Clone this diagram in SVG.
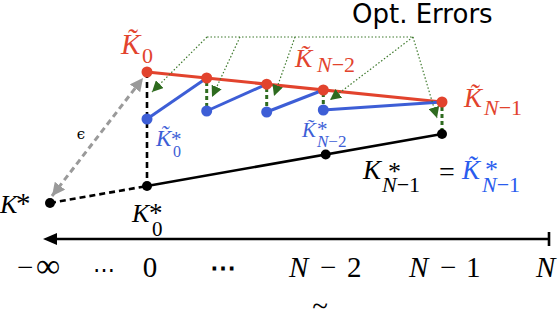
<svg xmlns="http://www.w3.org/2000/svg" width="560" height="312" viewBox="0 0 560 312">
<defs>
<style>
.m{font-family:"Liberation Serif","Times New Roman",serif;}
.i{font-style:italic;}
.red{fill:#E2432D;}
.blue{fill:#3D5ED6;}
.bblue{fill:#2A5CEE;}
.blk{fill:#000;}
.rl{stroke:#E2432D;stroke-width:3;fill:none;}
.bl{stroke:#3D5ED6;stroke-width:3;fill:none;}
.kl{stroke:#000;stroke-width:2.6;fill:none;}
.kd{stroke:#000;stroke-width:2.6;stroke-dasharray:6 4;fill:none;}
.gd{stroke:#2E6B1F;stroke-width:3;stroke-dasharray:4 3;fill:none;}
.gt{stroke:#3F7A2E;stroke-width:1.2;stroke-dasharray:1.5 2;fill:none;}
.gy{stroke:#9A9A9A;stroke-width:3;stroke-dasharray:6 4;fill:none;}
</style>
<marker id="ga" viewBox="0 0 10 10" refX="10" refY="5" markerUnits="userSpaceOnUse" markerWidth="11" markerHeight="11" orient="auto">
<path d="M0,0 L10,5 L0,10 z" fill="#2E6B1F"/>
</marker>
<marker id="gyE" viewBox="0 0 10 10" refX="10" refY="5" markerUnits="userSpaceOnUse" markerWidth="13" markerHeight="13" orient="auto">
<path d="M0,0 L10,5 L0,10 z" fill="#9A9A9A"/>
</marker>
<marker id="gyS" viewBox="0 0 10 10" refX="0" refY="5" markerUnits="userSpaceOnUse" markerWidth="13" markerHeight="13" orient="auto">
<path d="M10,0 L0,5 L10,10 z" fill="#9A9A9A"/>
</marker>
</defs>
<rect width="560" height="312" fill="#fff"/>

<g id="connectors">
<line x1="52" y1="239" x2="549" y2="239" stroke="#000" stroke-width="2.6"/>
<path d="M43,239 L57,233 L57,245 z" fill="#000"/>
<line x1="549" y1="232" x2="549" y2="246" stroke="#000" stroke-width="2.6"/>
<line class="rl" x1="147" y1="72" x2="442" y2="102"/>
<line class="bl" x1="147" y1="119" x2="206.7" y2="78"/>
<line class="bl" x1="206.7" y1="111" x2="266.7" y2="84.2"/>
<line class="bl" x1="266.7" y1="112" x2="323.3" y2="90"/>
<line class="bl" x1="323.3" y1="110" x2="442" y2="102"/>
<line class="kd" x1="147" y1="72" x2="147" y2="186"/>
<line class="kd" x1="50" y1="203" x2="147" y2="186"/>
<line class="kl" x1="147" y1="186" x2="442" y2="134"/>
<line class="gd" x1="206.7" y1="82" x2="206.7" y2="107"/>
<line class="gd" x1="266.7" y1="88" x2="266.7" y2="108"/>
<line class="gd" x1="323.3" y1="93" x2="323.3" y2="106"/>
<line class="gd" x1="442" y1="107" x2="442" y2="130"/>
<line class="gt" x1="207" y1="37" x2="413" y2="37"/>
<line class="gt" x1="207" y1="37" x2="152" y2="92" marker-end="url(#ga)"/>
<line class="gt" x1="240" y1="37" x2="212" y2="97" marker-end="url(#ga)"/>
<line class="gt" x1="295" y1="37" x2="274" y2="96" marker-end="url(#ga)"/>
<line class="gt" x1="413" y1="37" x2="330" y2="100" marker-end="url(#ga)"/>
<line class="gt" x1="413" y1="37" x2="437" y2="118" marker-end="url(#ga)"/>
<line class="gy" x1="52" y1="196" x2="143" y2="78" marker-start="url(#gyS)" marker-end="url(#gyE)"/>
</g>

<g id="Kt0">
<circle cx="147" cy="72" r="5.5" fill="#E2432D"/>
<text class="m red" x="121" y="54" font-size="29"><tspan class="i">K̃</tspan><tspan x="142" y="63" font-size="22">0</tspan></text>
</g>
<g id="Kt1"><circle cx="206.7" cy="78" r="5.5" fill="#E2432D"/></g>
<g id="Kt2"><circle cx="266.7" cy="84.2" r="5.5" fill="#E2432D"/></g>
<g id="KtN2">
<circle cx="323.3" cy="90" r="5.5" fill="#E2432D"/>
<text class="m red" x="295" y="67" font-size="26"><tspan class="i">K̃</tspan><tspan x="317" y="72" font-size="22"><tspan class="i">N</tspan>−2</tspan></text>
</g>
<g id="KtN1">
<circle cx="442" cy="102" r="5.5" fill="#E2432D"/>
<text class="m red" x="464" y="107" font-size="27"><tspan class="i">K̃</tspan><tspan x="484" y="115" font-size="22"><tspan class="i">N</tspan>−1</tspan></text>
</g>

<g id="Ks0">
<circle cx="147" cy="119" r="5.5" fill="#3D5ED6"/>
<text class="m blue" x="156" y="146" font-size="23"><tspan class="i">K̃</tspan><tspan x="171" y="146" font-size="21">*</tspan><tspan x="173" y="157" font-size="16">0</tspan></text>
</g>
<g id="Ks1"><circle cx="206.7" cy="111" r="5.5" fill="#3D5ED6"/></g>
<g id="Ks2"><circle cx="266.7" cy="112" r="5.5" fill="#3D5ED6"/></g>
<g id="KsN2">
<circle cx="323.3" cy="110" r="5.5" fill="#3D5ED6"/>
<text class="m blue" x="302" y="137" font-size="21"><tspan class="i">K̃</tspan><tspan x="317" y="136" font-size="21">*</tspan><tspan x="317" y="147" font-size="17"><tspan class="i">N</tspan>−2</tspan></text>
</g>

<g id="Kstar">
<circle cx="50" cy="203" r="5" fill="#000"/>
<text class="m blk" x="0" y="213" font-size="26"><tspan class="i">K</tspan><tspan x="16" y="213" font-size="29">*</tspan></text>
</g>
<g id="Kstar0">
<circle cx="147" cy="186" r="5" fill="#000"/>
<text class="m blk" x="132" y="222" font-size="26"><tspan class="i">K</tspan><tspan x="149" y="222" font-size="27">*</tspan><tspan x="152" y="236" font-size="21">0</tspan></text>
</g>
<g id="KstarMid"><circle cx="325.7" cy="154.5" r="5" fill="#000"/></g>
<g id="KstarN1">
<circle cx="442" cy="134" r="5" fill="#000"/>
<text class="m blk" x="363" y="179" font-size="27"><tspan class="i">K</tspan><tspan x="388" y="180" font-size="26">*</tspan><tspan x="382" y="192" font-size="22"><tspan class="i">N</tspan>−1</tspan><tspan x="447" y="181" font-size="28" text-anchor="middle">=</tspan><tspan class="i bblue" x="462" y="179">K̃</tspan><tspan class="bblue" x="485" y="178" font-size="26">*</tspan><tspan class="bblue" x="482" y="192" font-size="22"><tspan class="i">N</tspan>−1</tspan></text>
</g>

<g id="epsilon">
<text x="81" y="139" font-size="15" text-anchor="middle" font-family="DejaVu Serif,serif">ϵ</text>
</g>

<g id="optErrors">
<text x="352" y="23" font-size="26" font-family="DejaVu Sans,sans-serif" fill="#000">Opt. Errors</text>
</g>

<g id="axisLabels" class="m" font-size="29">
<text x="17" y="277">−<tspan x="36" font-size="34">∞</tspan></text>
<text x="104" y="277" text-anchor="middle" font-family="DejaVu Serif,serif" font-size="22">⋯</text>
<text x="150" y="277" text-anchor="middle">0</text>
<text x="223" y="277" text-anchor="middle" font-family="DejaVu Serif,serif" font-size="26" font-weight="bold">⋯</text>
<text x="289" y="277"><tspan class="i">N</tspan><tspan x="320">−</tspan><tspan x="347">2</tspan></text>
<text x="409" y="277"><tspan class="i">N</tspan><tspan x="440">−</tspan><tspan x="466">1</tspan></text>
<text x="536" y="277" class="i">N</text>
<text x="320" y="316" text-anchor="middle">~</text>
</g>
</svg>
